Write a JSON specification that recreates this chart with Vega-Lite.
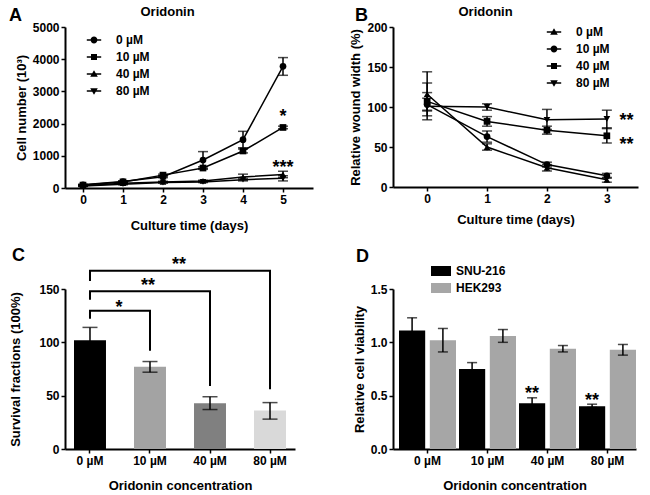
{
  "$schema": "https://vega.github.io/schema/vega-lite/v6.json",
  "padding": {"left": 9, "top": 5, "right": 5, "bottom": 5},
  "config": {
    "font": "Liberation Sans",
    "view": {"stroke": null},
    "axis": {"grid": false, "domainColor": "black", "domainWidth": 2, "tickColor": "black", "tickWidth": 1.5, "tickSize": 4, "labelColor": "black", "labelFontSize": 12, "labelFontWeight": "bold", "labelPadding": 2, "titleColor": "black", "titleFontSize": 13, "titleFontWeight": "bold", "labelFlush": false, "labelOverlap": false},
    "axisY": {"labelOverlap": false},
    "axisQuantitative": {"labelOverlap": false},
    "title": {"fontSize": 18, "fontWeight": "bold", "anchor": "start", "frame": "group", "color": "black", "offset": 0},
    "legend": {"labelFontSize": 12, "labelFontWeight": "bold", "labelColor": "black", "padding": 0}
  },
  "resolve": {"scale": {"shape": "independent", "color": "independent"}, "legend": {"shape": "independent", "color": "independent"}},
  "columns": 2,
  "spacing": {"row": 15, "column": 36},
  "concat": [
    {
      "width": 248,
      "height": 161,
      "title": {"text": "A", "dx": -56, "dy": 24},
      "data": {"values": [
        {"series": "0 µM", "day": 0, "value": 100, "lo": 85, "hi": 115},
        {"series": "0 µM", "day": 1, "value": 200, "lo": 175, "hi": 225},
        {"series": "0 µM", "day": 2, "value": 350, "lo": 320, "hi": 380},
        {"series": "0 µM", "day": 3, "value": 870, "lo": 610, "hi": 1130},
        {"series": "0 µM", "day": 4, "value": 1500, "lo": 1250, "hi": 1760},
        {"series": "0 µM", "day": 5, "value": 3780, "lo": 3500, "hi": 4050},
        {"series": "10 µM", "day": 0, "value": 90, "lo": 75, "hi": 105},
        {"series": "10 µM", "day": 1, "value": 190, "lo": 170, "hi": 210},
        {"series": "10 µM", "day": 2, "value": 400, "lo": 370, "hi": 430},
        {"series": "10 µM", "day": 3, "value": 620, "lo": 580, "hi": 660},
        {"series": "10 µM", "day": 4, "value": 1150, "lo": 1090, "hi": 1210},
        {"series": "10 µM", "day": 5, "value": 1880, "lo": 1840, "hi": 1920},
        {"series": "40 µM", "day": 0, "value": 70, "lo": 55, "hi": 85},
        {"series": "40 µM", "day": 1, "value": 150, "lo": 130, "hi": 170},
        {"series": "40 µM", "day": 2, "value": 190, "lo": 170, "hi": 210},
        {"series": "40 µM", "day": 3, "value": 220, "lo": 200, "hi": 240},
        {"series": "40 µM", "day": 4, "value": 340, "lo": 250, "hi": 430},
        {"series": "40 µM", "day": 5, "value": 420, "lo": 320, "hi": 520},
        {"series": "80 µM", "day": 0, "value": 60, "lo": 45, "hi": 75},
        {"series": "80 µM", "day": 1, "value": 120, "lo": 100, "hi": 140},
        {"series": "80 µM", "day": 2, "value": 170, "lo": 150, "hi": 190},
        {"series": "80 µM", "day": 3, "value": 190, "lo": 170, "hi": 210},
        {"series": "80 µM", "day": 4, "value": 260, "lo": 220, "hi": 300},
        {"series": "80 µM", "day": 5, "value": 300, "lo": 220, "hi": 380}
      ]},
      "resolve": {"axis": {"x": "independent"}, "scale": {"shape": "independent"}},
      "layer": [
        {
          "mark": {"type": "line", "color": "black", "strokeWidth": 1.5},
          "encoding": {
            "x": {"field": "day", "type": "quantitative", "scale": {"domain": [-0.45, 5.75], "nice": false}, "axis": {"values": [0, 1, 2, 3, 4, 5], "format": "d", "title": "Culture time (days)", "labelOverlap": false, "titlePadding": 14}},
            "y": {"field": "value", "type": "quantitative", "scale": {"domain": [0, 5000], "nice": false}, "axis": {"values": [0, 1000, 2000, 3000, 4000, 5000], "format": "d", "title": "Cell number (10³)", "labelOverlap": false}},
            "detail": {"field": "series"}
          }
        },
        {
          "mark": {"type": "errorbar", "ticks": {"size": 10, "thickness": 1.5}, "color": "black", "thickness": 1.5},
          "encoding": {
            "x": {"field": "day", "type": "quantitative", "axis": null},
            "y": {"field": "lo", "type": "quantitative", "axis": {"values": [0, 1000, 2000, 3000, 4000, 5000], "format": "d", "title": "Cell number (10³)", "labelOverlap": false}},
            "y2": {"field": "hi"}
          }
        },
        {
          "mark": {"type": "point", "filled": true, "color": "black", "size": 45, "opacity": 1},
          "encoding": {
            "x": {"field": "day", "type": "quantitative", "axis": null},
            "y": {"field": "value", "type": "quantitative", "axis": {"values": [0, 1000, 2000, 3000, 4000, 5000], "format": "d", "title": "Cell number (10³)", "labelOverlap": false}},
            "shape": {"field": "series", "type": "nominal",
              "scale": {"domain": ["0 µM", "10 µM", "40 µM", "80 µM"], "range": ["circle", "square", "triangle-up", "triangle-down"]},
              "legend": null
            }
          }
        },
        {
          "transform": [{"filter": "false"}],
          "mark": {"type": "point", "filled": true, "color": "black", "opacity": 1},
          "encoding": {
            "shape": {"field": "series", "type": "nominal",
              "scale": {"domain": ["0 µM", "10 µM", "40 µM", "80 µM"], "range": [
                "M-1.8,-0.19L1.8,-0.19L1.8,0.19L-1.8,0.19ZM-0.85,0A0.85,0.85,0,1,1,0.85,0A0.85,0.85,0,1,1,-0.85,0Z",
                "M-1.8,-0.19L1.8,-0.19L1.8,0.19L-1.8,0.19ZM-0.75,-0.75L0.75,-0.75L0.75,0.75L-0.75,0.75Z",
                "M-1.8,-0.19L1.8,-0.19L1.8,0.19L-1.8,0.19ZM0,-0.95L0.95,0.7L-0.95,0.7Z",
                "M-1.8,-0.19L1.8,-0.19L1.8,0.19L-1.8,0.19ZM0,0.95L-0.95,-0.7L0.95,-0.7Z"
              ]},
              "legend": {"orient": "none", "legendX": 23, "legendY": 7, "title": null, "labelOffset": 16, "rowPadding": 5, "symbolSize": 64, "symbolOpacity": 1, "symbolFillColor": "black", "symbolStrokeWidth": 0}
            }
          }
        },
        {
          "data": {"values": [
            {"x": 5, "y": 2040, "label": "*"},
            {"x": 5, "y": 480, "label": "***"}
          ]},
          "mark": {"type": "text", "fontSize": 18, "fontWeight": "bold", "baseline": "alphabetic", "align": "center", "color": "black"},
          "encoding": {
            "x": {"field": "x", "type": "quantitative", "axis": null},
            "y": {"field": "y", "type": "quantitative", "axis": {"values": [0, 1000, 2000, 3000, 4000, 5000], "format": "d", "title": "Cell number (10³)", "labelOverlap": false}},
            "text": {"field": "label"}
          }
        },
        {
          "mark": {"type": "rule", "opacity": 0},
          "encoding": {
            "x": {"field": "day", "type": "quantitative", "axis": {"orient": "top", "domain": false, "ticks": false, "labels": false, "title": "Oridonin", "titleX": 75, "titleY": -12, "titleAlign": "left", "titleBaseline": "alphabetic", "titleAngle": 0}}
          }
        }
      ]
    },
    {
      "width": 245,
      "height": 160,
      "title": {"text": "B", "dx": -38, "dy": 24},
      "data": {"values": [
        {"series": "0 µM", "day": 0, "value": 116, "lo": 89, "hi": 144},
        {"series": "0 µM", "day": 1, "value": 50, "lo": 46, "hi": 54},
        {"series": "0 µM", "day": 2, "value": 24, "lo": 20, "hi": 28},
        {"series": "0 µM", "day": 3, "value": 9, "lo": 6, "hi": 12},
        {"series": "10 µM", "day": 0, "value": 103, "lo": 95, "hi": 111},
        {"series": "10 µM", "day": 1, "value": 63, "lo": 56, "hi": 70},
        {"series": "10 µM", "day": 2, "value": 28, "lo": 25, "hi": 31},
        {"series": "10 µM", "day": 3, "value": 14, "lo": 11, "hi": 17},
        {"series": "40 µM", "day": 0, "value": 107, "lo": 96, "hi": 118},
        {"series": "40 µM", "day": 1, "value": 82, "lo": 76, "hi": 88},
        {"series": "40 µM", "day": 2, "value": 71, "lo": 66, "hi": 76},
        {"series": "40 µM", "day": 3, "value": 64, "lo": 55, "hi": 74},
        {"series": "80 µM", "day": 0, "value": 101, "lo": 84, "hi": 130},
        {"series": "80 µM", "day": 1, "value": 100, "lo": 96, "hi": 104},
        {"series": "80 µM", "day": 2, "value": 84, "lo": 72, "hi": 97},
        {"series": "80 µM", "day": 3, "value": 85, "lo": 73, "hi": 96}
      ]},
      "resolve": {"axis": {"x": "independent"}, "scale": {"shape": "independent"}},
      "layer": [
        {
          "mark": {"type": "line", "color": "black", "strokeWidth": 1.5},
          "encoding": {
            "x": {"field": "day", "type": "quantitative", "scale": {"domain": [-0.57, 3.52], "nice": false}, "axis": {"values": [0, 1, 2, 3], "format": "d", "title": "Culture time (days)", "labelOverlap": false, "titlePadding": 9}},
            "y": {"field": "value", "type": "quantitative", "scale": {"domain": [0, 200], "nice": false}, "axis": {"values": [0, 50, 100, 150, 200], "title": "Relative wound width (%)", "labelOverlap": false}},
            "detail": {"field": "series"}
          }
        },
        {
          "mark": {"type": "errorbar", "ticks": {"size": 10, "thickness": 1.5}, "color": "black", "thickness": 1.5},
          "encoding": {
            "x": {"field": "day", "type": "quantitative", "axis": null},
            "y": {"field": "lo", "type": "quantitative", "axis": {"values": [0, 50, 100, 150, 200], "title": "Relative wound width (%)", "labelOverlap": false}},
            "y2": {"field": "hi"}
          }
        },
        {
          "mark": {"type": "point", "filled": true, "color": "black", "size": 45, "opacity": 1},
          "encoding": {
            "x": {"field": "day", "type": "quantitative", "axis": null},
            "y": {"field": "value", "type": "quantitative", "axis": {"values": [0, 50, 100, 150, 200], "title": "Relative wound width (%)", "labelOverlap": false}},
            "shape": {"field": "series", "type": "nominal",
              "scale": {"domain": ["0 µM", "10 µM", "40 µM", "80 µM"], "range": ["triangle-up", "circle", "square", "triangle-down"]},
              "legend": null
            }
          }
        },
        {
          "transform": [{"filter": "false"}],
          "mark": {"type": "point", "filled": true, "color": "black", "opacity": 1},
          "encoding": {
            "shape": {"field": "series", "type": "nominal",
              "scale": {"domain": ["0 µM", "10 µM", "40 µM", "80 µM"], "range": [
                "M-1.8,-0.19L1.8,-0.19L1.8,0.19L-1.8,0.19ZM0,-0.95L0.95,0.7L-0.95,0.7Z",
                "M-1.8,-0.19L1.8,-0.19L1.8,0.19L-1.8,0.19ZM-0.85,0A0.85,0.85,0,1,1,0.85,0A0.85,0.85,0,1,1,-0.85,0Z",
                "M-1.8,-0.19L1.8,-0.19L1.8,0.19L-1.8,0.19ZM-0.75,-0.75L0.75,-0.75L0.75,0.75L-0.75,0.75Z",
                "M-1.8,-0.19L1.8,-0.19L1.8,0.19L-1.8,0.19ZM0,0.95L-0.95,-0.7L0.95,-0.7Z"
              ]},
              "legend": {"orient": "none", "legendX": 155, "legendY": -1, "title": null, "labelOffset": 16, "rowPadding": 5, "symbolSize": 64, "symbolOpacity": 1, "symbolFillColor": "black", "symbolStrokeWidth": 0}
            }
          }
        },
        {
          "data": {"values": [
            {"x": 3.33, "y": 76, "label": "**"},
            {"x": 3.33, "y": 46, "label": "**"}
          ]},
          "mark": {"type": "text", "fontSize": 18, "fontWeight": "bold", "baseline": "alphabetic", "align": "center", "color": "black"},
          "encoding": {
            "x": {"field": "x", "type": "quantitative", "axis": null},
            "y": {"field": "y", "type": "quantitative", "axis": {"values": [0, 50, 100, 150, 200], "title": "Relative wound width (%)", "labelOverlap": false}},
            "text": {"field": "label"}
          }
        },
        {
          "mark": {"type": "rule", "opacity": 0},
          "encoding": {
            "x": {"field": "day", "type": "quantitative", "axis": {"orient": "top", "domain": false, "ticks": false, "labels": false, "title": "Oridonin", "titleX": 65, "titleY": -12, "titleAlign": "left", "titleBaseline": "alphabetic", "titleAngle": 0}}
          }
        }
      ]
    },
    {
      "width": 230,
      "height": 160,
      "title": {"text": "C", "dx": -53, "dy": 13},
      "data": {"values": [
        {"conc": "0 µM", "v": 102, "lo": 90, "hi": 114},
        {"conc": "10 µM", "v": 77, "lo": 72, "hi": 82},
        {"conc": "40 µM", "v": 43, "lo": 37, "hi": 49},
        {"conc": "80 µM", "v": 36, "lo": 28, "hi": 43.5}
      ]},
      "layer": [
        {
          "mark": {"type": "bar"},
          "encoding": {
            "x": {"field": "conc", "type": "nominal", "sort": null, "scale": {"paddingInner": 0.467, "paddingOuter": 0.15}, "axis": {"title": "Oridonin concentration", "labelAngle": 0, "labelPadding": 2, "titlePadding": 13}},
            "y": {"field": "v", "type": "quantitative", "scale": {"domain": [0, 150], "nice": false}, "axis": {"values": [0, 50, 100, 150], "title": "Survival fractions (100%)", "labelOverlap": false, "titlePadding": 16}},
            "color": {"field": "conc", "type": "nominal", "sort": null, "scale": {"domain": ["0 µM", "10 µM", "40 µM", "80 µM"], "range": ["#000000", "#a3a3a3", "#808080", "#d9d9d9"]}, "legend": null}
          }
        },
        {
          "mark": {"type": "errorbar", "ticks": {"size": 15, "thickness": 1.5}, "color": "black", "thickness": 1.5},
          "encoding": {
            "x": {"field": "conc", "type": "nominal", "sort": null},
            "y": {"field": "lo", "type": "quantitative", "title": "Survival fractions (100%)"},
            "y2": {"field": "hi"}
          }
        },
        {
          "data": {"values": [
            {"b": 1, "o": 1, "at": "0 µM", "y": 122},
            {"b": 1, "o": 2, "at": "0 µM", "y": 129.5},
            {"b": 1, "o": 3, "at": "10 µM", "y": 129.5},
            {"b": 1, "o": 4, "at": "10 µM", "y": 92},
            {"b": 2, "o": 1, "at": "0 µM", "y": 140},
            {"b": 2, "o": 2, "at": "0 µM", "y": 148},
            {"b": 2, "o": 3, "at": "40 µM", "y": 148},
            {"b": 2, "o": 4, "at": "40 µM", "y": 59},
            {"b": 3, "o": 1, "at": "0 µM", "y": 157.5},
            {"b": 3, "o": 2, "at": "0 µM", "y": 167},
            {"b": 3, "o": 3, "at": "80 µM", "y": 167},
            {"b": 3, "o": 4, "at": "80 µM", "y": 56}
          ]},
          "mark": {"type": "line", "color": "black", "strokeWidth": 2},
          "encoding": {
            "x": {"field": "at", "type": "nominal", "sort": null},
            "y": {"field": "y", "type": "quantitative"},
            "detail": {"field": "b"},
            "order": {"field": "o"}
          }
        },
        {
          "data": {"values": [
            {"at": "10 µM", "y": 127.5, "label": "*", "mid": true},
            {"at": "40 µM", "y": 167.5, "label": "**", "mid": true},
            {"at": "10 µM", "y": 148, "label": "**", "mid": false}
          ]},
          "layer": [
            {
              "transform": [{"filter": "datum.mid"}],
              "mark": {"type": "text", "fontSize": 18, "fontWeight": "bold", "baseline": "alphabetic", "align": "center", "color": "black", "dx": -31},
              "encoding": {
                "x": {"field": "at", "type": "nominal", "sort": null},
                "y": {"field": "y", "type": "quantitative"},
                "text": {"field": "label"}
              }
            },
            {
              "transform": [{"filter": "!datum.mid"}],
              "mark": {"type": "text", "fontSize": 18, "fontWeight": "bold", "baseline": "alphabetic", "align": "center", "color": "black", "dx": -2},
              "encoding": {
                "x": {"field": "at", "type": "nominal", "sort": null},
                "y": {"field": "y", "type": "quantitative"},
                "text": {"field": "label"}
              }
            }
          ]
        }
      ]
    },
    {
      "width": 243,
      "height": 160,
      "title": {"text": "D", "dx": -37, "dy": 9},
      "data": {"values": [
        {"conc": "0 µM", "line": "SNU-216", "v": 1.11, "lo": 0.99, "hi": 1.23},
        {"conc": "0 µM", "line": "HEK293", "v": 1.02, "lo": 0.91, "hi": 1.13},
        {"conc": "10 µM", "line": "SNU-216", "v": 0.75, "lo": 0.69, "hi": 0.81},
        {"conc": "10 µM", "line": "HEK293", "v": 1.06, "lo": 1.0, "hi": 1.12},
        {"conc": "40 µM", "line": "SNU-216", "v": 0.43, "lo": 0.38, "hi": 0.48},
        {"conc": "40 µM", "line": "HEK293", "v": 0.94, "lo": 0.91, "hi": 0.97},
        {"conc": "80 µM", "line": "SNU-216", "v": 0.40, "lo": 0.39, "hi": 0.42},
        {"conc": "80 µM", "line": "HEK293", "v": 0.93, "lo": 0.88, "hi": 0.98}
      ]},
      "layer": [
        {
          "mark": {"type": "bar"},
          "encoding": {
            "x": {"field": "conc", "type": "nominal", "sort": null, "scale": {"paddingInner": 0.05, "paddingOuter": 0.05, "align": 1}, "axis": {"title": "Oridonin concentration", "labelAngle": 0, "labelPadding": 2, "titlePadding": 13}},
            "xOffset": {"field": "line", "type": "nominal", "sort": ["SNU-216", "HEK293"], "scale": {"paddingInner": 0.15}},
            "y": {"field": "v", "type": "quantitative", "scale": {"domain": [0, 1.5], "nice": false}, "axis": {"values": [0, 0.5, 1, 1.5], "format": ".1f", "title": "Relative cell viability", "labelOverlap": false}},
            "color": {"field": "line", "type": "nominal", "scale": {"domain": ["SNU-216", "HEK293"], "range": ["#000000", "#a6a6a6"]},
              "legend": {"orient": "none", "legendX": 38, "legendY": -28, "title": null, "symbolType": "M-1,-0.5L1,-0.5L1,0.5L-1,0.5Z", "symbolSize": 400, "labelOffset": 5, "rowPadding": 1, "labelFontSize": 12, "symbolStrokeWidth": 0}}
          }
        },
        {
          "mark": {"type": "rule", "color": "black", "strokeWidth": 1.5},
          "encoding": {
            "x": {"field": "conc", "type": "nominal", "sort": null},
            "xOffset": {"field": "line", "type": "nominal", "sort": ["SNU-216", "HEK293"]},
            "y": {"field": "lo", "type": "quantitative"},
            "y2": {"field": "hi"}
          }
        },
        {
          "mark": {"type": "tick", "color": "black", "size": 10, "thickness": 1.5},
          "encoding": {
            "x": {"field": "conc", "type": "nominal", "sort": null},
            "xOffset": {"field": "line", "type": "nominal", "sort": ["SNU-216", "HEK293"]},
            "y": {"field": "hi", "type": "quantitative"}
          }
        },
        {
          "mark": {"type": "tick", "color": "black", "size": 10, "thickness": 1.5},
          "encoding": {
            "x": {"field": "conc", "type": "nominal", "sort": null},
            "xOffset": {"field": "line", "type": "nominal", "sort": ["SNU-216", "HEK293"]},
            "y": {"field": "lo", "type": "quantitative"}
          }
        },
        {
          "data": {"values": [
            {"conc": "40 µM", "line": "SNU-216", "y": 0.465, "label": "**"},
            {"conc": "80 µM", "line": "SNU-216", "y": 0.40, "label": "**"}
          ]},
          "mark": {"type": "text", "fontSize": 18, "fontWeight": "bold", "baseline": "alphabetic", "align": "center", "color": "black"},
          "encoding": {
            "x": {"field": "conc", "type": "nominal", "sort": null},
            "xOffset": {"field": "line", "type": "nominal", "sort": ["SNU-216", "HEK293"]},
            "y": {"field": "y", "type": "quantitative"},
            "text": {"field": "label"}
          }
        }
      ]
    }
  ]
}
